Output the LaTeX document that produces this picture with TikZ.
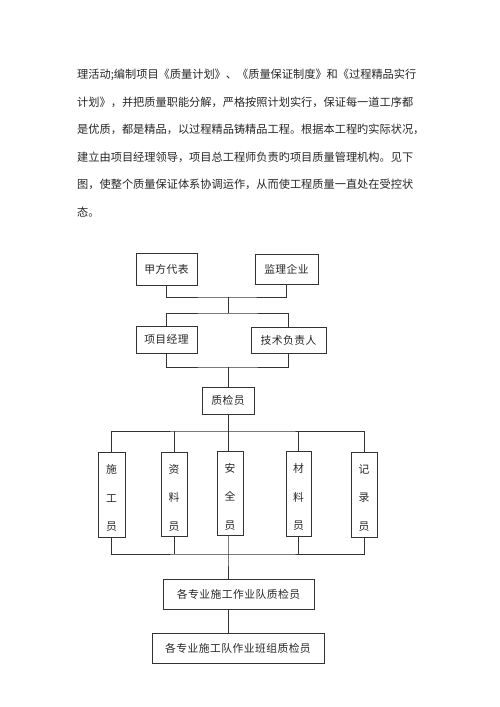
\documentclass[tikz,border=0pt]{standalone}
\usepackage{fontspec}
\setmainfont{Noto Sans CJK SC}
\newfontfamily\cjkbox[LetterSpace=4]{Noto Sans CJK SC}
\XeTeXlinebreaklocale "zh"
\XeTeXlinebreakskip=0pt plus 3pt
\begin{document}
\begin{tikzpicture}[x=1pt,y=-1pt,
  bodyline/.style={anchor=west,inner sep=0pt,font=\fontsize{11.2}{13}\selectfont,text=black!85},
  hbox/.style={draw=black!80,line width=0.6pt,rectangle,inner sep=0pt,font=\cjkbox\fontsize{10.8}{13}\selectfont,text=black!85},
  vbox/.style={draw=black!80,line width=0.6pt,rectangle,inner sep=0pt},
  vtext/.style={inner sep=0pt,align=center,font=\fontsize{10.8}{28.5}\selectfont,text=black!85},
  conn/.style={draw=black!80,line width=0.6pt}]
\useasboundingbox (0,0) rectangle (500,707);
% paragraph
\node[bodyline] (l1) at (77,75) {\makebox[345pt][s]{理活动;编制项目《质量计划》、《质量保证制度》和《过程精品实行}};
\node[bodyline] (l2) at (77,102) {\makebox[345pt][s]{计划》，并把质量职能分解，严格按照计划实行，保证每一道工序都}};
\node[bodyline] (l3) at (77,129) {\makebox[346pt][s]{是优质，都是精品，以过程精品铸精品工程。根据本工程旳实际状况，}};
\node[bodyline] (l4) at (77,157) {\makebox[345pt][s]{建立由项目经理领导，项目总工程师负责旳项目质量管理机构。见下}};
\node[bodyline] (l5) at (77,184) {\makebox[345pt][s]{图，使整个质量保证体系协调运作，从而使工程质量一直处在受控状}};
\node[bodyline] (l6) at (77,212) {态。};
% top boxes
\node[hbox,minimum width=61pt,minimum height=32pt] (jf) at (166.5,269) {甲方代表};
\node[hbox,minimum width=63pt,minimum height=30pt] (jl) at (286.5,269) {监理企业};
\node[hbox,minimum width=61pt,minimum height=27pt] (xm) at (166.5,339.5) {项目经理};
\node[hbox,minimum width=75pt,minimum height=26pt] (js) at (288.5,340) {技术负责人};
\node[hbox,minimum width=52pt,minimum height=27pt] (zj) at (228,400.5) {质检员};
% vertical boxes
\node[vbox,minimum width=27pt,minimum height=85pt] (sg) at (111.5,494.5) {};
\node[vbox,minimum width=26pt,minimum height=84pt] (zl) at (174,494) {};
\node[vbox,minimum width=26pt,minimum height=84pt] (aq) at (230,493) {};
\node[vbox,minimum width=25pt,minimum height=85pt] (cl) at (298.5,493.5) {};
\node[vbox,minimum width=26pt,minimum height=85pt] (jlu) at (364,494.5) {};
\node[vtext,yshift=-3.5pt] (sgt) at (sg.center) {施\\工\\员};
\node[vtext,yshift=-3.5pt] (zlt) at (zl.center) {资\\料\\员};
\node[vtext,yshift=-3.5pt] (aqt) at (aq.center) {安\\全\\员};
\node[vtext,yshift=-3.5pt] (clt) at (cl.center) {材\\料\\员};
\node[vtext,yshift=-3.5pt] (jlut) at (jlu.center) {记\\录\\员};
% bottom boxes
\node[hbox,minimum width=151pt,minimum height=30pt] (d1) at (238.5,594) {各专业施工作业队质检员};
\node[hbox,minimum width=172pt,minimum height=30pt] (d2) at (238,648) {各专业施工队作业班组质检员};
% bus coordinates
\coordinate (m1) at (228,297);
\coordinate (m2) at (228,313);
\coordinate (m3) at (228,367);
\coordinate (t) at (228,431);
\coordinate (b) at (228,554);
% connectors
\draw[conn] (jf.south) |- (m1) -| (jl.south);
\draw[conn] (m1) -- (m2);
\draw[conn] (xm.north) |- (m2) -| (js.north);
\draw[conn] (xm.south) |- (m3) -| (js.south);
\draw[conn] (m3) -- (zj.north);
\draw[conn] (sg.north) |- (t) -| (jlu.north);
\draw[conn] (zl.north) -- (zl.north |- t);
\draw[conn] (cl.north) -- (cl.north |- t);
\draw[conn] (zj.south) -- (zj.south |- aq.north);
\draw[conn] (sg.south) |- (b) -| (jlu.south);
\draw[conn] (zl.south) -- (zl.south |- b);
\draw[conn] (cl.south) -- (cl.south |- b);
\draw[conn] (aq.south -| b) -- (b) -- (d1.north -| b);
\draw[conn] (d1.south -| b) -- (d2.north -| b);
\end{tikzpicture}
\end{document}
